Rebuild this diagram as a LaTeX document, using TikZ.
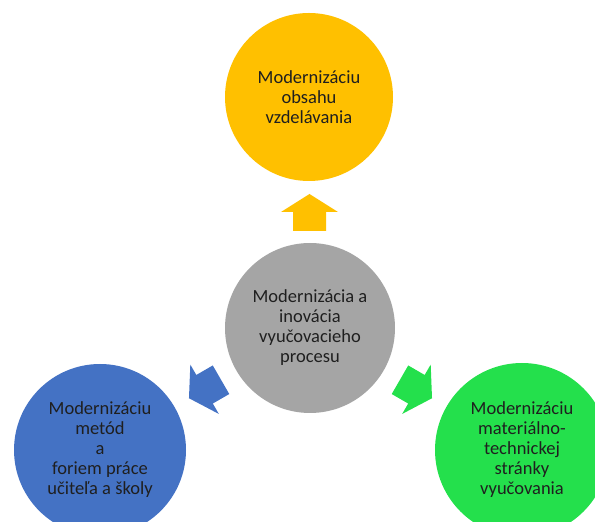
\documentclass[tikz,border=0pt]{standalone}
\usepackage{fontspec}
\setmainfont{Carlito}
\usetikzlibrary{calc}

\definecolor{coregrey}{HTML}{A5A5A5}
\definecolor{contentgold}{HTML}{FFC000}
\definecolor{methodblue}{HTML}{4472C4}
\definecolor{meansgreen}{RGB}{36,224,76}

\tikzset{
    bubble/.style={circle, inner sep=0pt, align=center, text=black!88,
        font=\fontsize{18.5}{20}\selectfont},
}

\begin{document}
\begin{tikzpicture}[x=1pt, y=1pt]
        \useasboundingbox (0,0) rectangle (595,522);
        \clip (0,0) rectangle (595,522);

        \node[bubble, fill=coregrey, minimum size=170pt] (core) at (310,194)
            {Modernizácia a\\inovácia\\vyučovacieho\\procesu};
        \node[bubble, fill=contentgold, minimum size=168pt] (content) at (309,425)
            {Modernizáciu\\obsahu\\vzdelávania};
        \node[bubble, fill=methodblue, minimum size=172pt] (methods) at (100,72)
            {Modernizáciu\\metód\\a\\foriem práce\\učiteľa a školy};
        \node[bubble, fill=meansgreen, minimum size=174pt] (means) at (522,72)
            {Modernizáciu\\materiálno-\\technickej\\stránky\\vyučovania};

        % block arrows halfway between the core and each bubble
        \foreach \tgt/\ang/\col in {content/90/contentgold, methods/210/methodblue, means/-30/meansgreen} {
            \fill[\col, shift={($(core)!0.5!(\tgt)$)}, rotate=\ang]
                (-18.5,-16.5) -- (0.5,-16.5) -- (0.5,-28.5) -- (18.5,0)
                -- (0.5,28.5) -- (0.5,16.5) -- (-18.5,16.5) -- cycle;
        }
    \end{tikzpicture}
\end{document}
